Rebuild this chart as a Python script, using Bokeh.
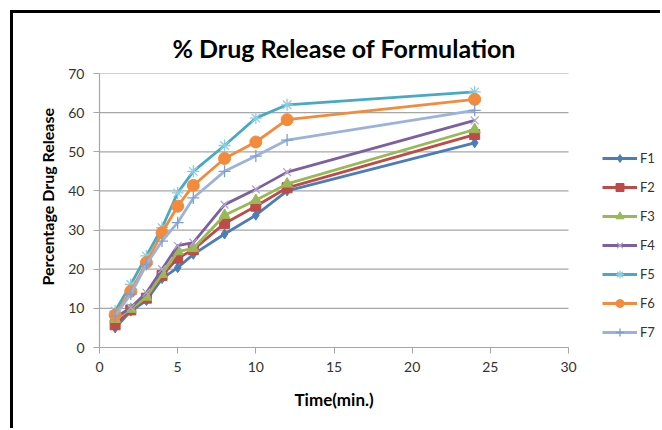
from bokeh.plotting import figure
from bokeh.models import Legend, LegendItem, FixedTicker, Title
from bokeh.embed import file_html
from bokeh.resources import INLINE

time_min = [1, 2, 3, 4, 5, 6, 8, 10, 12, 24]
F1 = [5.0, 9.3, 12.0, 17.6, 20.4, 23.8, 29.0, 33.8, 40.0, 52.3]
F2 = [5.8, 9.6, 12.6, 18.4, 22.8, 25.0, 31.7, 36.1, 40.8, 54.4]
F3 = [7.2, 9.8, 12.9, 18.7, 24.5, 25.3, 33.8, 37.6, 41.8, 55.7]
F4 = [7.6, 10.2, 14.0, 20.0, 26.0, 26.8, 36.5, 40.4, 44.8, 58.0]
F5 = [9.3, 16.1, 23.4, 30.6, 39.5, 45.0, 51.6, 58.6, 62.0, 65.3]
F6 = [8.3, 14.4, 21.7, 29.3, 36.1, 41.4, 48.3, 52.5, 58.2, 63.4]
F7 = [8.1, 13.6, 21.2, 27.2, 31.9, 38.2, 45.0, 48.9, 53.0, 60.6]
series_names = ["F1", "F2", "F3", "F4", "F5", "F6", "F7"]
series_values = [F1, F2, F3, F4, F5, F6, F7]
x_ticks = [0, 5, 10, 15, 20, 25, 30]
y_ticks = [0, 10, 20, 30, 40, 50, 60, 70]
x_axis_max = 30
y_axis_max = 70

colors = ["#4a7ebb", "#be4b48", "#98b954", "#7d60a0", "#46aac5", "#f38b3c", "#9bb3dc"]
marker_line = ["#4a7ebb", "#be4b48", "#98b954", "#b5a4cc", "#8dcde0", "#f38b3c", "#7f9fd0"]
markers = ["diamond", "square", "triangle", "x", "asterisk", "circle", "cross"]
sizes = [10, 10, 11, 11, 12, 12, 12]

FONT = "Lato"

# plot frame: 469 px for 0..30 on x; extra frame room on the right holds the legend
FRAME_W = 558
PX_PER_X = 469 / x_axis_max
p = figure(frame_width=FRAME_W, frame_height=274, output_backend="svg", toolbar_location=None,
           x_range=(0, FRAME_W / PX_PER_X), y_range=(0, y_axis_max),
           min_border_left=86, min_border_right=3, min_border_top=60, min_border_bottom=81,
           title="% Drug Release of Formulation")
p.styles = {"margin-left": "10px", "margin-top": "10px",
            "border-top": "3px solid #000000", "border-left": "3px solid #000000"}

p.title.align = "left"
p.title.offset = 73
p.title.text_font = FONT
p.title.text_font_size = "25px"
p.title.text_font_style = "bold"
p.title.text_color = "#000000"
p.title.standoff = 22

p.outline_line_color = None
p.xgrid.grid_line_color = None
p.ygrid.grid_line_color = None

# horizontal gridlines only over the 0..30 axis span
p.segment(x0=[0] * len(y_ticks[1:]), y0=y_ticks[1:], x1=[x_axis_max] * len(y_ticks[1:]), y1=y_ticks[1:],
          line_color="#a6a6a6", line_width=1.2)

for ax in (p.xaxis[0], p.yaxis[0]):
    ax.axis_line_color = "#a6a6a6"
    ax.axis_line_width = 1.2
    ax.major_tick_line_color = "#a6a6a6"
    ax.major_tick_in = 0
    ax.major_tick_out = 6
    ax.minor_tick_line_color = None
    ax.major_label_text_font = FONT
    ax.major_label_text_font_size = "14px"
    ax.major_label_text_color = "#333333"

p.xaxis.bounds = (0, x_axis_max)
p.xaxis.ticker = FixedTicker(ticks=x_ticks)
p.yaxis.ticker = FixedTicker(ticks=y_ticks)
p.xaxis.major_label_standoff = 8
p.yaxis.major_label_standoff = 9

# axis titles as side-panel titles so they can be positioned like the original
x_title = Title(text="Time(min.)", align="left", offset=195, standoff=25,
                text_font=FONT, text_font_size="17px", text_font_style="bold", text_color="#000000")
y_title = Title(text="Percentage Drug Release", align="left", offset=62, standoff=18,
                text_font=FONT, text_font_size="16px", text_font_style="bold", text_color="#000000")
p.add_layout(x_title, "below")
p.add_layout(y_title, "left")

items = []
for name, vals, c, mc, m, s in zip(series_names, series_values, colors, marker_line, markers, sizes):
    r1 = p.line(time_min, vals, line_color=c, line_width=2.8)
    lw = 1.3 if m in ("x", "asterisk", "cross") else 1
    r2 = p.scatter(time_min, vals, marker=m, size=s, fill_color=c, line_color=mc, line_width=lw)
    items.append(LegendItem(label=name, renderers=[r1, r2]))

legend = Legend(items=items, location=(503, 5), orientation="vertical",
                glyph_width=35, glyph_height=20, spacing=9, label_standoff=3,
                padding=0, margin=0, border_line_color=None, background_fill_alpha=0,
                label_text_font=FONT, label_text_font_size="13px", label_text_color="#333333")
p.add_layout(legend, "center")

open("out.html", "w").write(file_html(p, INLINE))
